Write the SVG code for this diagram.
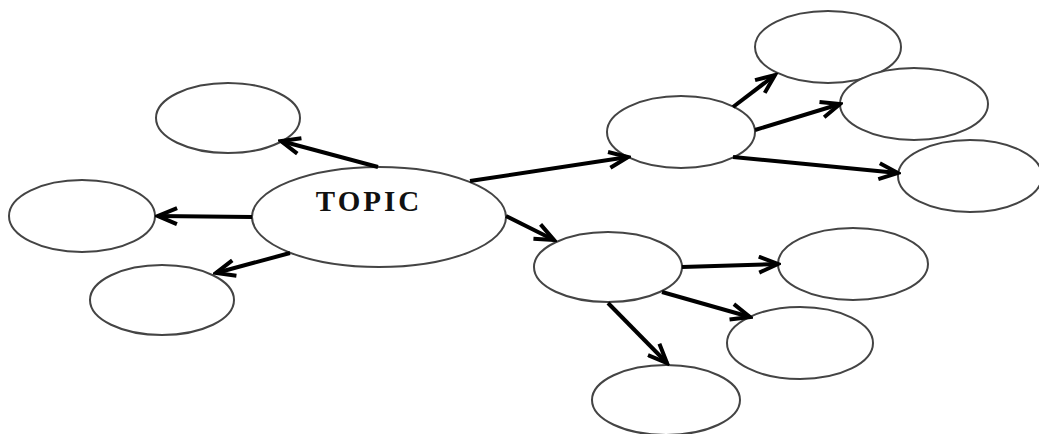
<svg xmlns="http://www.w3.org/2000/svg" width="1039" height="434" viewBox="0 0 1039 434">
<style>
.n{fill:#fff;stroke:#444;stroke-width:2}
.c{stroke:#000;stroke-width:4;fill:none;marker-end:url(#ah)}
.t{font-family:"Liberation Serif",serif;font-weight:bold;font-size:29px;letter-spacing:3px;fill:#111}
</style>
<defs>
<marker id="ah" markerUnits="userSpaceOnUse" viewBox="0 0 24 20" refX="21" refY="10" markerWidth="24" markerHeight="20" orient="auto">
<path d="M2,2 L21,10 L2,18" fill="none" stroke="#000" stroke-width="4" stroke-linejoin="miter"/>
</marker>
</defs>
<rect width="1039" height="434" fill="#fff"/>
<g id="topic"><ellipse class="n" cx="379" cy="217" rx="127" ry="50"/><text class="t" x="369" y="211" text-anchor="middle">TOPIC</text></g>
<g id="n-topleft"><ellipse class="n" cx="228" cy="118" rx="72" ry="35"/></g>
<g id="n-left"><ellipse class="n" cx="82" cy="216" rx="73" ry="36"/></g>
<g id="n-bottomleft"><ellipse class="n" cx="162" cy="300" rx="72" ry="35"/></g>
<g id="n-uppermid"><ellipse class="n" cx="681" cy="132" rx="74" ry="36"/></g>
<g id="n-top"><ellipse class="n" cx="828" cy="47" rx="73" ry="36"/></g>
<g id="n-rightmid"><ellipse class="n" cx="914" cy="104" rx="74" ry="36"/></g>
<g id="n-rightlow"><ellipse class="n" cx="970" cy="176" rx="72" ry="36"/></g>
<g id="n-lowermid"><ellipse class="n" cx="608" cy="267" rx="74" ry="35"/></g>
<g id="n-right2"><ellipse class="n" cx="853" cy="264" rx="75" ry="36"/></g>
<g id="n-midright"><ellipse class="n" cx="800" cy="343" rx="73" ry="36"/></g>
<g id="n-bottom"><ellipse class="n" cx="666" cy="400" rx="74" ry="35"/></g>
<g id="connectors">
<line class="c" x1="378" y1="167" x2="281" y2="141"/>
<line class="c" x1="252" y1="217" x2="158" y2="216"/>
<line class="c" x1="290" y1="253" x2="216" y2="273"/>
<line class="c" x1="470" y1="181" x2="628" y2="157"/>
<line class="c" x1="506" y1="216" x2="554" y2="240"/>
<line class="c" x1="733" y1="107" x2="775" y2="75"/>
<line class="c" x1="755" y1="130" x2="840" y2="104"/>
<line class="c" x1="733" y1="157" x2="898" y2="173"/>
<line class="c" x1="682" y1="267" x2="778" y2="264"/>
<line class="c" x1="662" y1="292" x2="750" y2="317"/>
<line class="c" x1="608" y1="303" x2="667" y2="363"/>
</g>
</svg>
